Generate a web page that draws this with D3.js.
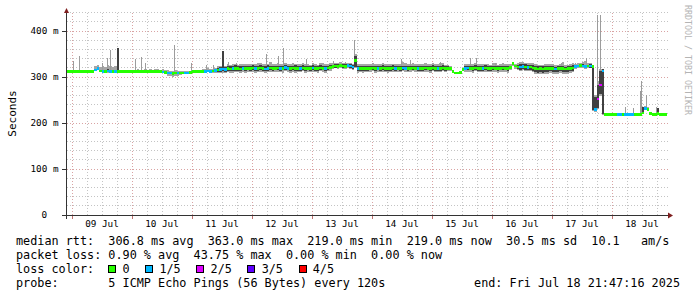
<!DOCTYPE html>
<html>
<head>
<meta charset="utf-8">
<script src="https://cdn.jsdelivr.net/npm/d3@7"></script>
<style>
  body { margin: 0; background: #fff; }
  svg { display: block; }
  text { font-family: "DejaVu Sans Mono", monospace; white-space: pre; fill: #000; }
</style>
</head>
<body>
<svg id="chart" width="697" height="297"></svg>
<script>
//Time window of the graph (one sample per hour from the start)
const startTime = new Date("2025-07-08T21:47:16Z");
const endTime = new Date("2025-07-18T21:47:16Z");

//Median rtt per hour, in ms
const medianMs = [
  312,312,312,312,312,312,312,312,312,312,312,315,318,313,312,312,313,312,312,312,312,312,312,312,
  312,312,312,312,312,312,312,312,312,312,312,312,312,312,311,310,309,309,308,309,309,309,309,309,
  309,310,312,312,312,312,312,312,313,312,313,314,315,316,317,316,318,317,318,319,318,317,319,318,
  319,318,320,318,319,320,319,317,319,320,318,319,320,318,319,321,319,318,320,319,318,319,320,318,
  319,318,320,319,318,320,319,318,320,321,323,324,323,325,324,323,325,324,322,336,318,319,318,319,
  318,319,320,318,319,318,320,319,318,319,320,318,319,318,320,319,318,319,320,319,318,319,318,320,
  319,318,320,319,318,319,320,318,319,318,312,309,309,310,316,319,320,319,318,320,319,318,319,320,
  319,318,320,319,318,319,320,319,318,321,330,324,322,322,323,322,321,322,320,318,317,318,317,318,
  318,319,318,317,318,319,318,317,318,319,320,323,324,325,324,323,324,324,323,230,252,283,313,219,
  219,219,219,219,219,219,219,219,219,219,219,219,219,219,222,232,230,221,219,219,221,219,219,219
];

//Packet loss per hour (index into lossColors)
const lossIdx = [
  0,0,0,0,0,0,0,0,0,0,0,1,1,0,1,0,1,1,0,1,0,0,0,0,
  0,0,0,0,0,0,0,0,0,0,0,0,0,0,1,0,1,1,0,0,1,0,0,1,
  1,0,0,0,0,0,0,1,1,1,0,1,0,1,1,1,0,0,1,0,0,0,1,0,
  0,0,0,1,0,0,0,1,1,0,0,0,0,1,0,1,1,0,0,0,0,1,0,0,
  0,0,1,0,0,0,0,1,0,0,0,0,0,0,0,0,1,1,1,0,1,0,0,0,
  0,0,0,0,1,0,0,0,0,0,0,1,0,0,1,1,0,0,0,0,1,0,0,0,
  0,0,0,0,1,0,0,0,0,0,0,0,0,0,0,1,1,0,0,0,0,0,1,0,
  0,0,0,0,0,0,0,0,0,0,0,0,0,1,1,0,1,0,0,0,0,0,0,0,
  0,0,0,1,0,0,0,0,0,0,0,1,1,0,1,1,0,1,0,1,2,2,1,0,
  0,0,0,0,1,1,0,1,1,1,1,0,0,0,0,1,0,0,0,0,0,0,0,0
];

//Smoke spread above / below the median, ms (outer light band)
const smokeUp = [
  0,0,0,0,0,0,0,0,0,0,4,8,8,9,12,10,14,12,10,12,3,0,0,0,
  2,3,2,3,6,4,3,5,4,6,3,5,6,4,6,5,6,5,4,7,5,4,3,4,
  3,2,2,3,2,4,5,6,6,6,5,6,8,9,10,9,10,9,11,10,9,11,10,10,
  10,11,9,10,12,10,9,11,10,12,10,9,10,11,10,10,9,11,10,9,11,10,10,11,
  10,9,11,10,9,10,11,10,9,10,7,7,8,7,7,8,6,7,7,14,10,9,10,9,
  10,9,10,11,9,10,10,9,11,10,9,10,10,11,12,11,10,9,10,10,11,9,10,10,
  10,11,10,9,10,11,10,9,8,6,0,0,0,0,3,10,9,10,11,10,9,10,10,9,
  10,9,10,11,9,10,10,9,11,8,3,5,8,10,10,9,10,9,10,11,10,9,10,11,
  10,9,11,10,9,10,14,10,9,10,11,6,7,6,9,11,7,6,3,30,40,34,5,0,
  0,0,0,0,2,0,0,3,0,2,0,0,0,0,13,4,4,2,0,0,12,0,0,0
];
const smokeDn = [
  0,0,0,0,0,0,0,0,0,0,0,0,2,3,4,4,4,3,2,2,0,0,0,0,
  0,0,0,0,0,0,0,0,0,0,0,0,0,0,0,3,6,7,8,7,6,5,3,2,
  2,0,0,0,0,0,1,2,3,3,4,5,6,7,8,7,8,8,9,8,8,9,8,9,
  9,8,9,10,8,9,9,8,9,10,8,9,9,8,10,9,8,9,9,10,8,9,8,9,
  9,8,9,8,9,8,9,9,8,9,6,5,6,5,6,5,6,6,7,16,9,8,9,8,
  8,9,8,9,8,8,9,8,9,8,9,8,9,8,8,9,8,9,8,9,8,9,8,9,
  8,9,8,9,8,9,8,8,6,5,0,0,0,0,2,8,9,8,9,8,9,8,8,9,
  9,8,9,8,9,8,9,8,9,6,6,6,7,8,7,8,7,9,10,11,10,11,10,11,
  11,10,11,10,11,10,11,10,11,10,9,5,4,5,4,5,4,5,96,6,22,24,95,0,
  0,0,0,0,0,0,0,0,0,0,0,0,0,0,2,0,0,0,0,0,0,0,0,0
];

//Dark core of the smoke above / below the median, ms
const coreUp = [
  0,0,0,0,0,0,0,0,0,0,0,2,3,0,2,0,4,2,0,3,51,0,0,0,
  0,0,0,0,0,0,0,0,0,0,0,0,0,0,0,0,0,0,0,2,0,0,0,0,
  0,0,0,0,0,0,0,0,2,0,3,4,5,6,40,6,5,6,5,7,5,6,5,6,
  6,5,6,7,5,6,5,6,7,5,6,6,5,7,6,5,6,6,5,7,6,5,6,6,
  6,5,6,5,6,6,5,6,5,6,4,4,5,4,4,5,4,4,5,10,6,5,6,5,
  5,6,5,6,6,5,6,5,6,5,6,5,6,6,5,6,5,6,5,6,6,5,6,5,
  6,5,6,5,6,5,6,5,4,3,0,0,0,0,1,6,5,6,5,6,5,6,5,6,
  5,6,5,6,5,6,5,6,5,4,2,3,5,7,6,7,6,5,6,5,6,5,6,5,
  6,5,6,5,6,5,6,5,6,5,6,4,3,4,5,4,3,4,3,26,30,30,4,0,
  0,0,0,0,0,0,0,0,0,0,0,0,0,0,13,0,0,0,0,0,12,0,0,0
];
const coreDn = [
  0,0,0,0,0,0,0,0,0,0,0,0,0,0,0,0,0,0,0,0,0,0,0,0,
  0,0,0,0,0,0,0,0,0,0,0,0,0,0,0,0,0,3,3,0,0,0,0,0,
  0,0,0,0,0,0,0,0,0,0,2,3,4,5,4,5,4,5,4,5,4,5,4,5,
  4,5,4,5,5,4,5,4,5,4,5,4,5,5,4,5,4,5,4,5,4,5,5,4,
  4,5,4,5,4,5,4,5,5,4,4,4,4,4,4,4,4,4,4,14,4,5,4,5,
  5,4,5,4,4,5,4,5,4,5,4,5,4,4,5,4,5,4,5,4,4,5,4,5,
  4,5,4,5,4,5,4,4,4,3,0,0,0,0,1,4,5,4,5,4,5,4,5,4,
  5,4,5,4,5,4,5,4,5,4,3,3,5,6,5,6,5,7,8,7,8,7,8,7,
  8,7,8,7,8,7,8,7,8,7,6,4,3,4,3,4,3,4,95,4,20,20,94,0,
  0,0,0,0,0,0,0,0,0,0,0,0,0,0,0,0,0,0,0,0,0,0,0,0
];

//Single high pings: [hours after start, top in ms]
const spikes = [
  [2.7,335],[5.0,346],[14.2,330],[16.3,342],[17.4,359],[27.4,339],[30.1,344],[31.7,330],
  [43.0,370],[49.8,331],[56.1,326],[58.7,326],[64.7,333],[67.8,330],[79.8,351],[84.7,346],
  [86.7,362],[96.1,340],[106.7,335],[111.4,333],[115.1,380],[134.1,340],[137.4,337],[149.4,333],
  [161.4,342],[164.1,342],[171.4,331],[198.1,330],[203.4,330],[208.1,342],[212.3,435],[213.4,435],
  [223.4,235],[226.7,233],[229.4,270],[230.1,291],[232.1,261],[236.1,235]
];

const lossColors = ["#26ff00", "#00b8ff", "#dd00ff", "#5e00ff", "#ff0000"];
const lossLabels = ["0", "1/5", "2/5", "3/5", "4/5"];
const yTicks = [0, 100, 200, 300, 400];

const legendLines = [
  "median rtt:  306.8 ms avg  363.0 ms max  219.0 ms min  219.0 ms now  30.5 ms sd  10.1   am/s",
  "packet loss: 0.90 % avg  43.75 % max  0.00 % min  0.00 % now",
  "loss color:",
  "probe:       5 ICMP Echo Pings (56 Bytes) every 120s"
];
const endLabel = "end: Fri Jul 18 21:47:16 2025";

const svg = d3.select("#chart");
const hourMs = 3600 * 1000;
const tAt = h => new Date(startTime.getTime() + h * hourMs);

const x = d3.scaleUtc().domain([startTime, endTime]).range([66.5, 666.5]);
const y = d3.scaleLinear().domain([0, 440]).range([215, 12.6]);
const px = v => Math.floor(v) + 0.5;

const samples = medianMs.map((m, i) => ({
  i, m,
  loss: lossIdx[i],
  hi: m + smokeUp[i], lo: m - smokeDn[i],
  cHi: m + coreUp[i], cLo: m - coreDn[i]
}));

//Grid
const grid = svg.append("g").attr("class", "grid");
const minorY = d3.range(20, 441, 20).filter(v => v % 100 !== 0);
const majorY = yTicks.filter(v => v > 0);
const dayLines = d3.utcDay.range(startTime, endTime);
const sixHours = d3.utcHour.every(6).range(startTime, endTime).filter(d => d.getUTCHours() !== 0);

grid.selectAll(".hmin").data(minorY).enter().append("line")
  .attr("x1", 67).attr("x2", 668)
  .attr("y1", d => px(y(d))).attr("y2", d => px(y(d)))
  .attr("stroke", "#c4c4c4").attr("stroke-dasharray", "1,2");
grid.selectAll(".vmin").data(sixHours).enter().append("line")
  .attr("x1", d => px(x(d))).attr("x2", d => px(x(d)))
  .attr("y1", 215).attr("y2", 12)
  .attr("stroke", "#c4c4c4").attr("stroke-dasharray", "1,2");
grid.selectAll(".hmaj").data(majorY).enter().append("line")
  .attr("x1", 67).attr("x2", 668)
  .attr("y1", d => px(y(d))).attr("y2", d => px(y(d)))
  .attr("stroke", "#d9a3a3").attr("stroke-dasharray", "1,2");
grid.selectAll(".vmaj").data(dayLines).enter().append("line")
  .attr("x1", d => px(x(d))).attr("x2", d => px(x(d)))
  .attr("y1", 215).attr("y2", 12)
  .attr("stroke", "#d9a3a3").attr("stroke-dasharray", "1,2");

//Smoke
const colX = d => x(tAt(d.i));
const colW = d => x(tAt(d.i + 1)) - x(tAt(d.i));
const plot = svg.append("g").attr("shape-rendering", "crispEdges");

plot.append("g").selectAll("rect").data(samples.filter(d => d.hi > d.lo)).enter().append("rect")
  .attr("x", colX).attr("width", colW)
  .attr("y", d => y(d.hi)).attr("height", d => y(d.lo) - y(d.hi))
  .attr("fill", "#a6a6a6");

plot.append("g").selectAll("line").data(spikes).enter().append("line")
  .attr("x1", d => px(x(tAt(d[0])))).attr("x2", d => px(x(tAt(d[0]))))
  .attr("y1", d => y(medianMs[Math.floor(d[0])])).attr("y2", d => y(d[1]))
  .attr("stroke", "#9c9c9c");

plot.append("g").selectAll("rect").data(samples.filter(d => d.cHi > d.cLo)).enter().append("rect")
  .attr("x", colX).attr("width", colW)
  .attr("y", d => y(d.cHi)).attr("height", d => y(d.cLo) - y(d.cHi))
  .attr("fill", "#404040");

//Median, coloured by loss
plot.append("g").selectAll("rect").data(samples).enter().append("rect")
  .attr("x", colX).attr("width", colW)
  .attr("y", d => y(d.m) - 1.3).attr("height", 2.6)
  .attr("fill", d => lossColors[d.loss]);

//Axes
const axis = svg.append("g").attr("shape-rendering", "crispEdges");
axis.append("line").attr("x1", 62).attr("x2", 668).attr("y1", 215.5).attr("y2", 215.5).attr("stroke", "#333");
axis.append("line").attr("x1", 66.5).attr("x2", 66.5).attr("y1", 12).attr("y2", 219).attr("stroke", "#333");
axis.selectAll(".yt").data(majorY).enter().append("line")
  .attr("x1", 62).attr("x2", 66).attr("y1", d => px(y(d))).attr("y2", d => px(y(d))).attr("stroke", "#333");
axis.selectAll(".xt").data(dayLines).enter().append("line")
  .attr("x1", d => px(x(d))).attr("x2", d => px(x(d))).attr("y1", 216).attr("y2", 219).attr("stroke", "#c07070");
svg.append("path").attr("d", "M64,13L69,13L66.5,8Z").attr("fill", "#7f1f1f");
svg.append("path").attr("d", "M668,212.5L668,218.5L673,215.5Z").attr("fill", "#7f1f1f");

//Y labels
svg.append("g").selectAll("text").data(yTicks).enter().append("text")
  .attr("x", d => d === 0 ? 47 : 58.5).attr("y", d => y(d) + 3.4)
  .attr("text-anchor", "end").style("font-size", "9.3px")
  .text(d => d === 0 ? "0" : `${d} m`);

//X labels at noon
const noons = dayLines.map(d => d3.utcHour.offset(d, 12));
svg.append("g").selectAll("text").data(noons).enter().append("text")
  .attr("x", d => x(d)).attr("y", 227)
  .attr("text-anchor", "middle").style("font-size", "9.3px")
  .text(d3.utcFormat("%d %b"));

svg.append("text").attr("transform", "translate(15.5,113.5) rotate(-90)")
  .attr("text-anchor", "middle").style("font-size", "11px").text("Seconds");

svg.append("text").attr("transform", "translate(684.5,5) rotate(90)")
  .style("font-size", "8.3px").style("fill", "#b4b4b4").text("RRDTOOL / TOBI OETIKER");

//Legend
const charW = 7.1;
svg.append("g").selectAll("text").data(legendLines).enter().append("text")
  .attr("x", 16).attr("y", (d, i) => 245 + i * 14)
  .style("font-size", "11.8px").text(d => d);
svg.append("text").attr("x", 680).attr("y", 287).attr("text-anchor", "end")
  .style("font-size", "11.8px").text(endLabel);

let cursor = 16 + 13 * charW;
const lossItems = lossLabels.map((label, i) => {
  const item = { label, color: lossColors[i], bx: cursor, tx: cursor + 2 * charW };
  cursor = item.tx + label.length * charW + 2.2 * charW;
  return item;
});
const lossG = svg.append("g");
lossG.selectAll("rect").data(lossItems).enter().append("rect")
  .attr("x", d => Math.round(d.bx) + 0.5).attr("y", 265.5).attr("width", 7).attr("height", 7)
  .attr("fill", d => d.color).attr("stroke", "#000");
lossG.selectAll("text").data(lossItems).enter().append("text")
  .attr("x", d => d.tx).attr("y", 273)
  .style("font-size", "11.8px").text(d => d.label);
</script>
</body>
</html>
